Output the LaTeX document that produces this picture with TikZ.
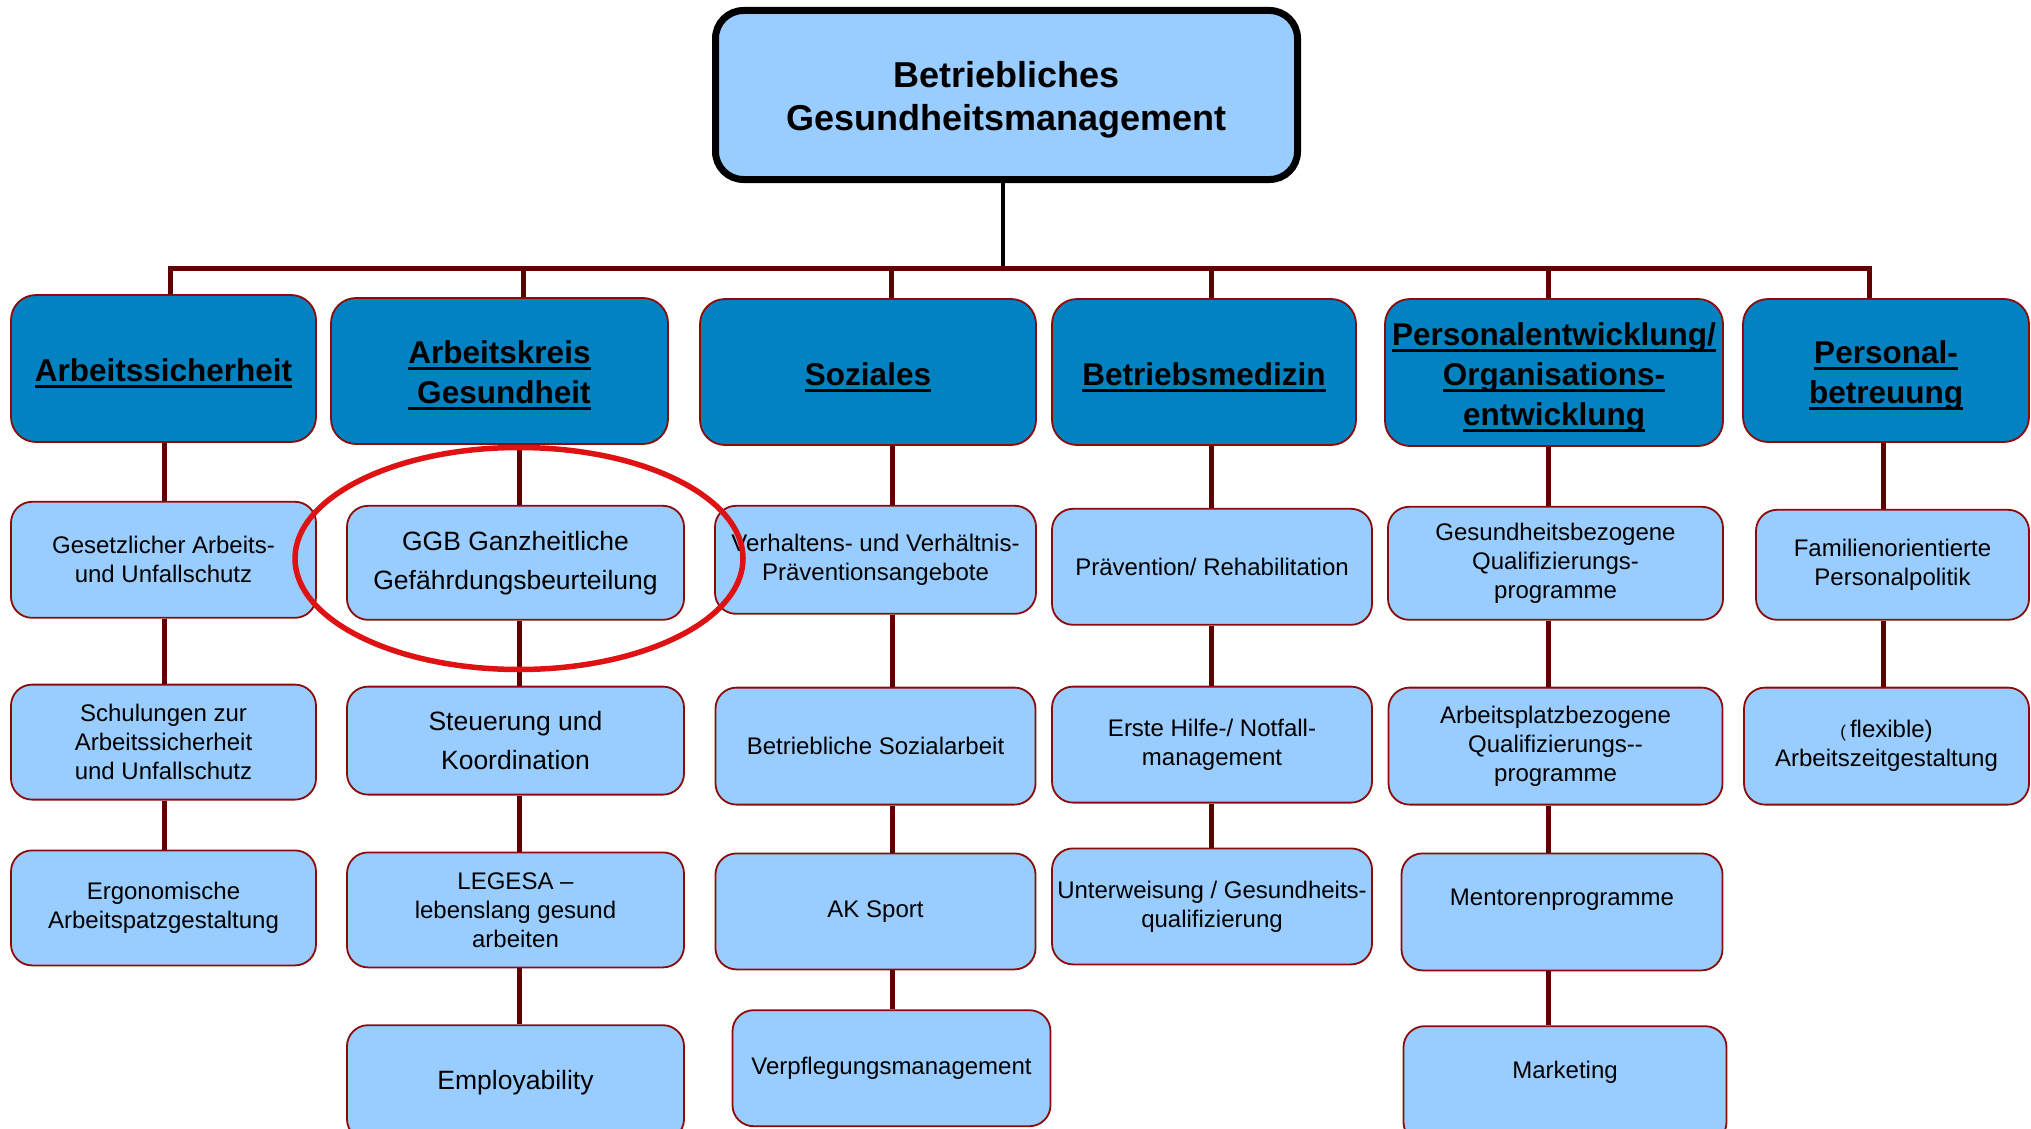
\documentclass[tikz,border=0pt]{standalone}
\usepackage{fontspec}
\setmainfont{Liberation Sans}
\usetikzlibrary{positioning}

\definecolor{topblue}{RGB}{2,130,192}
\definecolor{lightblue}{RGB}{153,204,255}
\definecolor{boxline}{RGB}{140,10,10}
\definecolor{linkred}{RGB}{96,0,0}
\definecolor{ringred}{RGB}{222,18,18}

\newsavebox{\kopfbox}
\newcommand{\kopf}[1]{\sbox{\kopfbox}{#1}\rlap{\rule[-6.5pt]{\wd\kopfbox}{3pt}}\usebox{\kopfbox}}
\newcommand{\hoch}[1]{\raisebox{12pt}[\height][\depth]{#1}}
\newcommand{\oben}[1]{\rule{0pt}{#1}}

\begin{document}
\begin{tikzpicture}[
	x=1pt, y=1pt,
	node distance=58pt,
	rootbox/.style={draw=black, line width=7pt, fill=lightblue, rounded corners=28pt, minimum width=582pt, minimum height=169pt, inner sep=0pt, align=center, font=\fontsize{36pt}{43pt}\selectfont\bfseries},
	topbox/.style={draw=boxline, line width=1.8pt, fill=topblue, rounded corners=25pt, minimum height=146pt, inner sep=0pt, align=center, font=\fontsize{31.5pt}{40pt}\selectfont\bfseries},
	subbox/.style={draw=boxline, line width=1.8pt, fill=lightblue, rounded corners=21pt, minimum height=116pt, inner sep=0pt, align=center, font=\fontsize{24pt}{29pt}\selectfont},
	bigtext/.style={font=\fontsize{26.5pt}{39pt}\selectfont},
	link/.style={draw=linkred, line width=5pt},
	ring/.style={draw=ringred, line width=5.5pt}
	]
	\useasboundingbox (0,0) rectangle (2031,-1129);
	\clip (0,0) rectangle (2031,-1129);

	\node[rootbox] (bgm) at (1006.5,-95) {\oben{36pt}Betriebliches\\Gesundheitsmanagement};

	\node[topbox, minimum width=305pt, minimum height=147pt] (as) at (163.5,-368.5) {\oben{33pt}\kopf{Arbeitssicherheit}};
	\node[topbox, minimum width=337pt] (ak) at (499.5,-371) {\oben{32pt}\kopf{Arbeitskreis}\\\kopf{ Gesundheit}};
	\node[topbox, minimum width=336pt] (so) at (868,-372) {\oben{33pt}\kopf{Soziales}};
	\node[topbox, minimum width=304pt] (bm) at (1204,-372) {\oben{33pt}\kopf{Betriebsmedizin}};
	\node[topbox, minimum width=338pt, minimum height=147pt] (pe) at (1554,-372.5) {\oben{32pt}\kopf{Personalentwicklung/}\\\kopf{Organisations-}\\\kopf{entwicklung}};
	\node[topbox, minimum width=286pt, minimum height=143pt] (pb) at (1886,-370.5) {\oben{32pt}\kopf{Personal-}\\\kopf{betreuung}};

	% Arbeitssicherheit
	\node[subbox, minimum width=305pt, below=58pt of as] (gs) {Gesetzlicher Arbeits-\\und Unfallschutz};
	\node[subbox, minimum width=305pt, minimum height=115pt, below=65pt of gs] (su) {Schulungen zur\\Arbeitssicherheit\\und Unfallschutz};
	\node[subbox, minimum width=305pt, minimum height=115pt, below=49pt of su] (eg) {Ergonomische\\Arbeitspatzgestaltung};

	% Arbeitskreis Gesundheit
	\node[subbox, bigtext, minimum width=337pt, minimum height=114pt, below=60pt of ak, xshift=16pt] (ggb) {GGB Ganzheitliche\\Gefährdungsbeurteilung};
	\node[subbox, bigtext, minimum width=337pt, minimum height=108pt, below=65pt of ggb] (sk) {Steuerung und\\Koordination};
	\node[subbox, minimum width=337pt, minimum height=115pt, below=56pt of sk] (lg) {LEGESA --\\lebenslang gesund\\arbeiten};
	\node[subbox, bigtext, minimum width=337pt, minimum height=115pt, below=56pt of lg] (ep) {Employability};

	% Soziales
	\node[subbox, minimum width=321pt, minimum height=108pt, below=59pt of so, xshift=7.5pt] (vp) {Verhaltens- und Verhältnis-\\Präventionsangebote};
	\node[subbox, minimum width=320pt, minimum height=117pt, below=72pt of vp] (bs) {Betriebliche Sozialarbeit};
	\node[subbox, minimum width=320pt, below=47pt of bs] (aks) {AK Sport};
	\node[subbox, minimum width=318pt, below=39pt of aks, xshift=16pt] (vm) {Verpflegungsmanagement};

	% Betriebsmedizin
	\node[subbox, minimum width=320pt, below=62pt of bm, xshift=8pt] (pr) {Prävention/ Rehabilitation};
	\node[subbox, minimum width=320pt, below=60pt of pr] (eh) {Erste Hilfe-/ Notfall-\\management};
	\node[subbox, minimum width=320pt, below=44pt of eh] (uw) {Unterweisung / Gesundheits-\\qualifizierung};

	% Personalentwicklung
	\node[subbox, minimum width=335pt, minimum height=113pt, below=59pt of pe, xshift=1.5pt] (gq) {Gesundheitsbezogene\\Qualifizierungs-\\programme};
	\node[subbox, minimum width=334pt, minimum height=117pt, below=66pt of gq] (aq) {Arbeitsplatzbezogene\\Qualifizierungs-{}-\\programme};
	\node[subbox, minimum width=321pt, minimum height=117pt, below=47pt of aq, xshift=6.5pt] (mp) {\hoch{Mentorenprogramme}};
	\node[subbox, minimum width=323pt, minimum height=117pt, below=54pt of mp, xshift=3pt] (mk) {\hoch{Marketing}};

	% Personalbetreuung
	\node[subbox, minimum width=273pt, minimum height=110pt, below=66pt of pb, xshift=6.5pt] (fp) {Familienorientierte\\Personalpolitik};
	\node[subbox, minimum width=285pt, minimum height=117pt, below=66pt of fp, xshift=-6pt] (fz) {{\fontsize{17pt}{17pt}\selectfont(}\,flexible)\\Arbeitszeitgestaltung};

	\coordinate (abzweig) at (1003,-268);
	\coordinate (d1) at (170,-268);
	\coordinate (d2) at (523,-268);
	\coordinate (d3) at (891,-268);
	\coordinate (d4) at (1211,-268);
	\coordinate (d5) at (1548,-268);
	\coordinate (d6) at (1869,-268);
	\coordinate (k1) at (164,0);
	\coordinate (k2) at (519,0);
	\coordinate (k3) at (892,0);
	\coordinate (k4) at (1211,0);
	\coordinate (k5) at (1548,0);
	\coordinate (k6) at (1883,0);

	\draw[black, line width=4.5pt] (bgm.south -| abzweig) -- (abzweig);
	\draw[link] (as.north -| d1) -- (d1) -- (d6) -- (pb.north -| d6);

	\path (d2) edge[link] (ak.north -| d2)
	(d3) edge[link] (so.north -| d3)
	(d4) edge[link] (bm.north -| d4)
	(d5) edge[link] (pe.north -| d5)

	(as.south -| k1) edge[link] (gs.north -| k1)
	(gs.south -| k1) edge[link] (su.north -| k1)
	(su.south -| k1) edge[link] (eg.north -| k1)

	(ak.south -| k2) edge[link] (ggb.north -| k2)
	(ggb.south -| k2) edge[link] (sk.north -| k2)
	(sk.south -| k2) edge[link] (lg.north -| k2)
	(lg.south -| k2) edge[link] (ep.north -| k2)

	(so.south -| k3) edge[link] (vp.north -| k3)
	(vp.south -| k3) edge[link] (bs.north -| k3)
	(bs.south -| k3) edge[link] (aks.north -| k3)
	(aks.south -| k3) edge[link] (vm.north -| k3)

	(bm.south -| k4) edge[link] (pr.north -| k4)
	(pr.south -| k4) edge[link] (eh.north -| k4)
	(eh.south -| k4) edge[link] (uw.north -| k4)

	(pe.south -| k5) edge[link] (gq.north -| k5)
	(gq.south -| k5) edge[link] (aq.north -| k5)
	(aq.south -| k5) edge[link] (mp.north -| k5)
	(mp.south -| k5) edge[link] (mk.north -| k5)

	(pb.south -| k6) edge[link] (fp.north -| k6)
	(fp.south -| k6) edge[link] (fz.north -| k6);

	\draw[ring] (519,-558.5) ellipse [x radius=224pt, y radius=111pt];
\end{tikzpicture}
\end{document}
